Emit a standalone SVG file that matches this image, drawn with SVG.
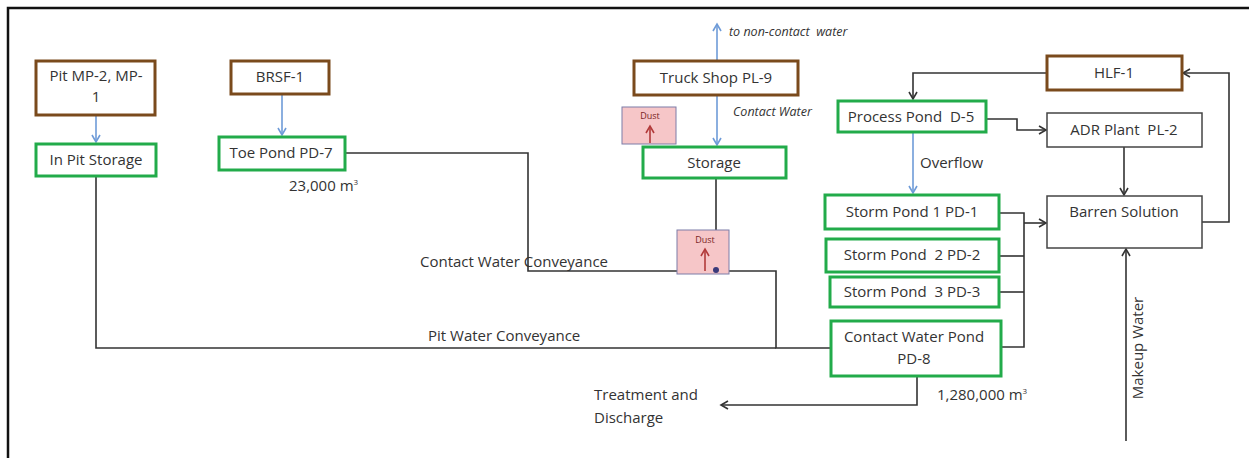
<svg xmlns="http://www.w3.org/2000/svg" width="1249" height="458" viewBox="0 0 1249 458">
<defs>
<style>
.t{font-family:"Open Sans","Liberation Sans",sans-serif;font-size:15px;fill:#333;}
.it{font-family:"Open Sans","Liberation Sans",sans-serif;font-size:12.5px;font-style:italic;fill:#333;}
.d{font-family:"Open Sans","Liberation Sans",sans-serif;font-size:9px;fill:#7a1f1f;}
.brown{fill:#fff;stroke:#7a4a1c;stroke-width:3;}
.green{fill:#fff;stroke:#22ab4a;stroke-width:3;}
.plain{fill:#fff;stroke:#444;stroke-width:1.5;}
.dust{fill:#f6c6c8;stroke:#7c7ca8;stroke-width:1;}
.c{fill:none;stroke:#333;stroke-width:1.6;}
.b{fill:none;stroke:#6e9bd8;stroke-width:1.6;}
.r{fill:none;stroke:#b23a3a;stroke-width:1.6;}
</style>
<marker id="ak" markerWidth="10" markerHeight="10" refX="8" refY="5" orient="auto" markerUnits="userSpaceOnUse"><path d="M1,1 L8,5 L1,9" fill="none" stroke="#333" stroke-width="1.6"/></marker>
<marker id="ab" markerWidth="10" markerHeight="10" refX="8" refY="5" orient="auto" markerUnits="userSpaceOnUse"><path d="M1,1 L8,5 L1,9" fill="none" stroke="#6e9bd8" stroke-width="1.6"/></marker>
<marker id="ar" markerWidth="10" markerHeight="10" refX="8" refY="5" orient="auto" markerUnits="userSpaceOnUse"><path d="M1,1 L8,5 L1,9" fill="none" stroke="#b23a3a" stroke-width="1.6"/></marker>
</defs>
<rect width="1249" height="458" fill="#fff"/>
<path d="M8,458 V8 H1249" fill="none" stroke="#111" stroke-width="2.5"/>

<g id="connectors">
<path class="b" d="M96,116 V142" marker-end="url(#ab)"/>
<path class="b" d="M282,94 V135" marker-end="url(#ab)"/>
<path class="b" d="M717,61 V24" marker-end="url(#ab)"/>
<path class="b" d="M717,95 V145" marker-end="url(#ab)"/>
<path class="b" d="M913,132 V193" marker-end="url(#ab)"/>
<path class="c" d="M345,153 H528 V271 H776 V348 H831"/>
<path class="c" d="M96,176 V348 H776"/>
<path class="c" d="M716,178 V270"/>
<path class="c" d="M1047,73 H913 V99" marker-end="url(#ak)"/>
<path class="c" d="M986,119 H1017 V130 H1046" marker-end="url(#ak)"/>
<path class="c" d="M1124,147 V195" marker-end="url(#ak)"/>
<path class="c" d="M1202,222 H1229 V73 H1183" marker-end="url(#ak)"/>
<path class="c" d="M999,213 H1024 V347 H1001"/>
<path class="c" d="M999,256 H1024"/>
<path class="c" d="M999,292 H1024"/>
<path class="c" d="M1024,223 H1046" marker-end="url(#ak)"/>
<path class="c" d="M917,376 V405 H721" marker-end="url(#ak)"/>
<path class="c" d="M1126,441 V249" marker-end="url(#ak)"/>
</g>

<g id="pit">
<rect class="brown" x="36" y="61" width="119" height="54"/>
<text class="t" x="96" y="81" text-anchor="middle">Pit MP-2, MP-</text>
<text class="t" x="96" y="102" text-anchor="middle">1</text>
</g>
<g id="inpit">
<rect class="green" x="36" y="144" width="120" height="32"/>
<text class="t" x="96" y="165" text-anchor="middle">In Pit Storage</text>
</g>
<g id="brsf">
<rect class="brown" x="231" y="61" width="98" height="33"/>
<text class="t" x="280" y="82" text-anchor="middle">BRSF-1</text>
</g>
<g id="toepond">
<rect class="green" x="219" y="137" width="126" height="33"/>
<text class="t" x="281" y="158" text-anchor="middle">Toe Pond PD-7</text>
<text class="t" x="289" y="191" font-size="13.5">23,000 m<tspan font-size="8" dy="-6">3</tspan></text>
</g>
<g id="truckshop">
<rect class="brown" x="634" y="61" width="164" height="34"/>
<text class="t" x="716" y="83" text-anchor="middle">Truck Shop PL-9</text>
<text class="it" x="729" y="36">to non-contact&#160; water</text>
<text class="it" x="733" y="116">Contact Water</text>
</g>
<g id="dust1">
<rect class="dust" x="622" y="107" width="54" height="37"/>
<text class="d" x="650" y="119" text-anchor="middle">Dust</text>
<path class="r" d="M650,143 V126" marker-end="url(#ar)"/>
</g>
<g id="storage">
<rect class="green" x="643" y="147" width="143" height="31"/>
<text class="t" x="714" y="168" text-anchor="middle">Storage</text>
</g>
<g id="dust2">
<rect class="dust" x="677" y="230" width="52" height="44"/>
<text class="d" x="705" y="243" text-anchor="middle">Dust</text>
<path class="r" d="M705,271 V249" marker-end="url(#ar)"/>
<circle cx="716" cy="270" r="3" fill="#3a3a7a"/>
</g>
<g id="labels">
<text class="t" x="420" y="267">Contact Water Conveyance</text>
<text class="t" x="428" y="341">Pit Water Conveyance</text>
<text class="t" x="594" y="400">Treatment and</text>
<text class="t" x="594" y="423">Discharge</text>
<text class="t" x="920" y="168">Overflow</text>
</g>
<g id="hlf">
<rect class="brown" x="1047" y="56" width="135" height="34"/>
<text class="t" x="1114" y="78" text-anchor="middle">HLF-1</text>
</g>
<g id="processpond">
<rect class="green" x="838" y="101" width="148" height="31"/>
<text class="t" x="911" y="122" text-anchor="middle">Process Pond&#160; D-5</text>
</g>
<g id="adr">
<rect class="plain" x="1047" y="113" width="155" height="34"/>
<text class="t" x="1124" y="135" text-anchor="middle">ADR Plant&#160; PL-2</text>
</g>
<g id="barren">
<rect class="plain" x="1047" y="196" width="155" height="52"/>
<text class="t" x="1124" y="217" text-anchor="middle">Barren Solution</text>
</g>
<g id="sp1">
<rect class="green" x="825" y="195" width="174" height="34"/>
<text class="t" x="912" y="217" text-anchor="middle">Storm Pond 1 PD-1</text>
</g>
<g id="sp2">
<rect class="green" x="826" y="239" width="173" height="33"/>
<text class="t" x="912" y="260" text-anchor="middle">Storm Pond&#160; 2 PD-2</text>
</g>
<g id="sp3">
<rect class="green" x="830" y="277" width="169" height="30"/>
<text class="t" x="912" y="297" text-anchor="middle">Storm Pond&#160; 3 PD-3</text>
</g>
<g id="cwp">
<rect class="green" x="831" y="321" width="170" height="55"/>
<text class="t" x="914" y="342" text-anchor="middle">Contact Water Pond</text>
<text class="t" x="914" y="364" text-anchor="middle">PD-8</text>
<text class="t" x="937" y="400" font-size="13.5">1,280,000 m<tspan font-size="8" dy="-6">3</tspan></text>
</g>
<g id="makeup">
<text class="t" x="0" y="0" text-anchor="middle" transform="translate(1143,348) rotate(-90)">Makeup Water</text>
</g>
</svg>
